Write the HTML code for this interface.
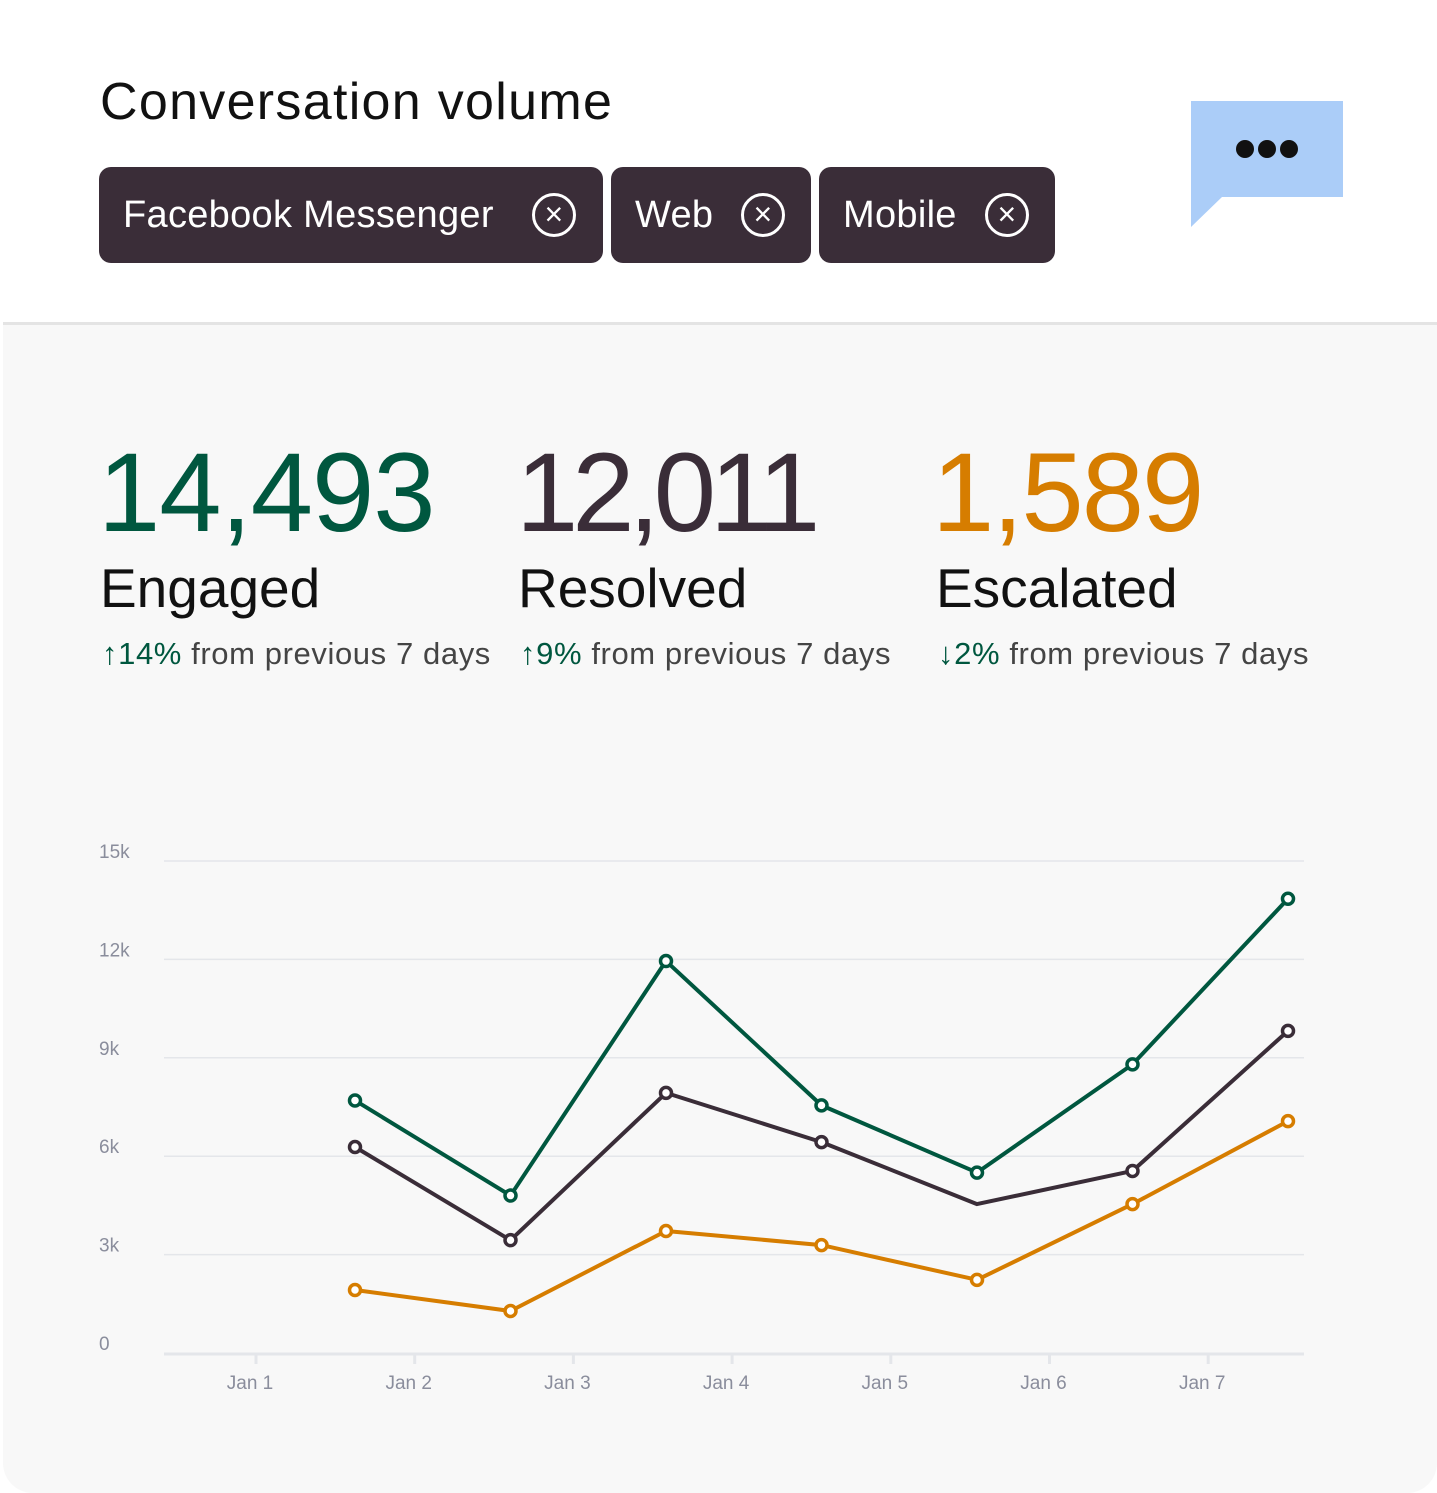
<!DOCTYPE html>
<html><head><meta charset="utf-8"><style>
body{margin:0;width:1437px;height:1492px;background:#fff;font-family:"Liberation Sans",sans-serif;position:relative;overflow:hidden}
.abs{position:absolute}
.title{left:100px;top:72px;font-size:52px;color:#111;letter-spacing:1.3px}
.chip{top:167px;height:96px;background:#3a2d38;border-radius:12px;color:#fff;font-size:38px;display:flex;align-items:center;box-sizing:border-box;padding-left:24px;letter-spacing:0.3px}
.x{position:absolute;top:26px;width:44px;height:44px;border:3.5px solid #fff;border-radius:50%;box-sizing:border-box;text-align:center;line-height:37px;font-size:32px}
.panel{left:3px;top:322px;width:1434px;height:1168px;background:#f8f8f8;border-top:3px solid #e4e4e4;border-radius:0 0 30px 30px}
.big{font-size:112px;top:428px;letter-spacing:-4px}
.lab{font-size:55px;top:556px;color:#111}
.chg{font-size:31px;top:636px;color:#444;letter-spacing:0.6px}
</style></head><body>
<div class="abs title">Conversation volume</div>
<div class="abs chip" style="left:99px;width:504px">Facebook Messenger<span class="x" style="left:433px">×</span></div>
<div class="abs chip" style="left:611px;width:200px">Web<span class="x" style="left:130px">×</span></div>
<div class="abs chip" style="left:819px;width:236px">Mobile<span class="x" style="left:166px">×</span></div>
<svg class="abs" style="left:1190px;top:100px" width="154" height="130">
<polygon points="1,1 153,1 153,97 32,97 1,127" fill="#abcdf8"/>
<circle cx="55" cy="49" r="9" fill="#111"/><circle cx="77" cy="49" r="9" fill="#111"/><circle cx="99" cy="49" r="9" fill="#111"/></svg>
<div class="abs panel"></div>
<div class="abs big" style="left:98px;color:#00573f;letter-spacing:-1px">14,493</div>
<div class="abs big" style="left:516px;color:#3a2d38;letter-spacing:-6px">12,011</div>
<div class="abs big" style="left:932px;color:#d67d00;letter-spacing:-2px">1,589</div>
<div class="abs lab" style="left:100px">Engaged</div>
<div class="abs lab" style="left:518px">Resolved</div>
<div class="abs lab" style="left:936px">Escalated</div>
<div class="abs chg" style="left:102px"><span style="color:#00573f">↑14%</span> from previous 7 days</div>
<div class="abs chg" style="left:520px"><span style="color:#00573f">↑9%</span> from previous 7 days</div>
<div class="abs chg" style="left:938px"><span style="color:#00573f">↓2%</span> from previous 7 days</div>
<svg id="chart" class="abs" style="left:0;top:0" width="1437" height="1492"></svg>
<script>
const yTicks=[0,3000,6000,9000,12000,15000];
const yTickLabels=["0","3k","6k","9k","12k","15k"];
const xCats=["Jan 1","Jan 2","Jan 3","Jan 4","Jan 5","Jan 6","Jan 7"];
const engaged=[7700,4800,11950,7550,5500,8800,13850];
const resolved=[6280,3440,7930,6430,4540,5550,9820];
const escalated=[1920,1280,3720,3290,2230,4540,7070];
const svg=document.getElementById('chart');const NS='http://www.w3.org/2000/svg';
const y=v=>1353-v/15000*492;
const xt=i=>256+i*158.7;
const xp=i=>355+i*155.5;
function mk(t,a,name){const e=document.createElementNS(NS,t);for(const k in a)e.setAttribute(k,a[k]);


svg.appendChild(e);return e;}
yTicks.forEach((v,i)=>{
 if(i>0)mk('line',{x1:164,x2:1304,y1:y(v),y2:y(v),stroke:'#e4e6ea','stroke-width':1.5},'gridline');
 const t=mk('text',{x:99,y:y(v)-3,'font-size':19,fill:'#8a8d9c','font-family':'Liberation Sans'},'y-tick-label');t.textContent=yTickLabels[i];
});
mk('line',{x1:164,x2:1304,y1:1354,y2:1354,stroke:'#e4e6ea','stroke-width':3},'x-axis');
xCats.forEach((c,i)=>{
 mk('line',{x1:xt(i),x2:xt(i),y1:1354,y2:1364,stroke:'#e4e6ea','stroke-width':3},'x-tick');
 const t=mk('text',{x:xt(i)-6,y:1389,'font-size':19,fill:'#8a8d9c','text-anchor':'middle','font-family':'Liberation Sans'},'x-tick-label');t.textContent=c;
});
function series(d,col,name,skip){
 mk('polyline',{points:d.map((v,i)=>xp(i)+','+y(v)).join(' '),fill:'none',stroke:col,'stroke-width':4,'stroke-linejoin':'round'},name+'-line');
 d.forEach((v,i)=>{if(skip&&skip.includes(i))return;mk('circle',{cx:xp(i),cy:y(v),r:5.5,fill:'#fff',stroke:col,'stroke-width':3.5},name+'-point');});
}
series(escalated,'#d67d00','escalated');
series(resolved,'#3a2d38','resolved',[4]);
series(engaged,'#00573f','engaged');
</script>
</body></html>
